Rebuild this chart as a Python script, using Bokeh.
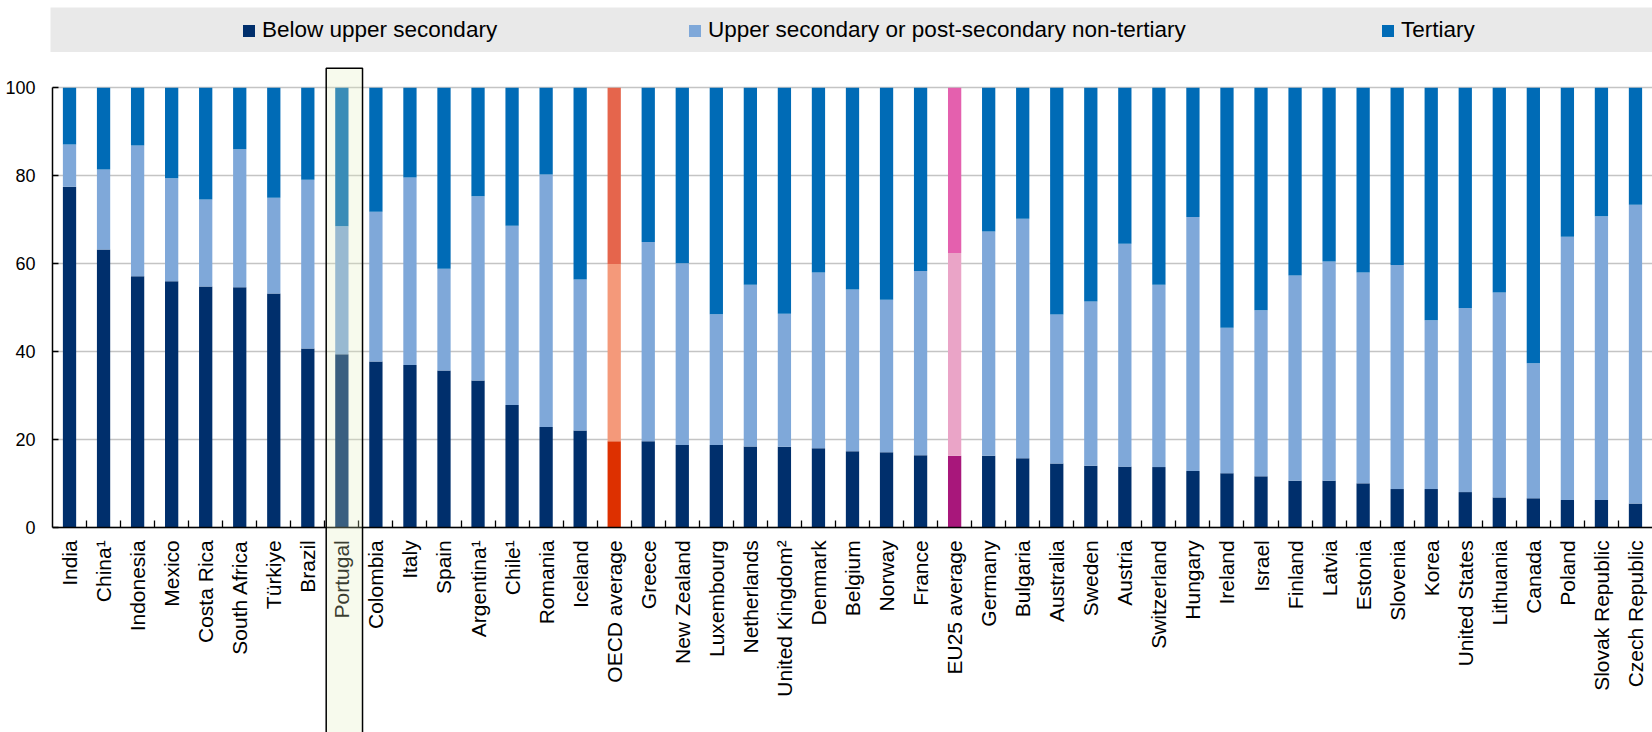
from bokeh.plotting import figure
from bokeh.models import (ColumnDataSource, Range1d, FixedTicker, Legend, LegendItem,
                          BoxAnnotation, Spacer)
from bokeh.layouts import column, row
from bokeh.embed import file_html
from bokeh.resources import INLINE
import math

countries = ["India", "China\u00b9", "Indonesia", "Mexico", "Costa Rica", "South Africa",
             "T\u00fcrkiye", "Brazil", "Portugal", "Colombia", "Italy", "Spain",
             "Argentina\u00b9", "Chile\u00b9", "Romania", "Iceland", "OECD average", "Greece",
             "New Zealand", "Luxembourg", "Netherlands", "United Kingdom\u00b2", "Denmark",
             "Belgium", "Norway", "France", "EU25 average", "Germany", "Bulgaria",
             "Australia", "Sweden", "Austria", "Switzerland", "Hungary", "Ireland", "Israel",
             "Finland", "Latvia", "Estonia", "Slovenia", "Korea", "United States",
             "Lithuania", "Canada", "Poland", "Slovak Republic", "Czech Republic"]

below_upper_secondary = [77.5, 63.2, 57.1, 56.0, 54.8, 54.6, 53.2, 40.7, 39.4, 37.7, 36.9, 35.7,
                         33.4, 27.8, 22.8, 22.0, 19.6, 19.6, 18.7, 18.7, 18.4, 18.3, 18.0,
                         17.3, 17.1, 16.4, 16.3, 16.3, 15.7, 14.5, 14.0, 13.8, 13.7, 12.8,
                         12.3, 11.6, 10.6, 10.6, 10.0, 8.7, 8.7, 8.0, 6.8, 6.6, 6.2, 6.2, 5.4]
upper_secondary = [9.6, 18.2, 29.8, 23.4, 19.8, 31.4, 21.8, 38.4, 29.1, 34.1, 42.7, 23.1,
                   41.9, 40.8, 57.5, 34.4, 40.3, 45.3, 41.4, 29.8, 36.8, 30.3, 40.0,
                   36.8, 34.7, 41.9, 46.1, 51.0, 54.5, 33.9, 37.4, 50.7, 41.5, 57.8,
                   33.1, 37.8, 46.7, 49.9, 48.0, 51.0, 38.4, 41.9, 46.6, 30.7, 59.9, 64.6, 68.0]
tertiary = [12.9, 18.6, 13.1, 20.6, 25.4, 14.0, 25.0, 20.9, 31.5, 28.2, 20.4, 41.2,
            24.7, 31.4, 19.7, 43.6, 40.1, 35.1, 39.9, 51.5, 44.8, 51.4, 42.0,
            45.9, 48.2, 41.7, 37.6, 32.7, 29.8, 51.6, 48.6, 35.5, 44.8, 29.4,
            54.6, 50.6, 42.7, 39.5, 42.0, 40.3, 52.9, 50.1, 46.6, 62.7, 33.9, 29.2, 26.6]

y_ticks = [0, 20, 40, 60, 80, 100]
series_labels = ["Below upper secondary", "Upper secondary or post-secondary non-tertiary",
                 "Tertiary"]
highlight = "Portugal"

FONT = "Liberation Sans"
base_cols = ["#002F6C", "#7FA8D9", "#006BB6"]
special_cols = {"OECD average": ["#DD3000", "#F4997A", "#E5654C"],
                "EU25 average": ["#A8177B", "#EAA4C7", "#E460AE"]}

xs = list(range(len(countries)))
c0, c1, c2 = [], [], []
for name in countries:
    cols = special_cols.get(name, base_cols)
    c0.append(cols[0]); c1.append(cols[1]); c2.append(cols[2])

src = ColumnDataSource(dict(x=xs, below=below_upper_secondary, upper=upper_secondary,
                            tertiary=tertiary, c0=c0, c1=c1, c2=c2))

W = 1652
TOP_GAP = 7
LEG_LEFT = 50
LEG_H = 45
MAIN_H = 732 - TOP_GAP - LEG_H

# ---------------- main chart ----------------
# frame runs from just above the 100 line down to the page bottom; the x axis is
# fixed at y=0 so the highlight box can run through the category labels.
p = figure(width=W, height=MAIN_H, output_backend="svg", toolbar_location=None,
           x_range=Range1d(-0.5, len(countries) - 0.5), y_range=Range1d(-46.7, 104.85),
           min_border_left=52, min_border_right=0, min_border_top=14, min_border_bottom=0)
p.outline_line_color = None
p.background_fill_color = "white"
p.border_fill_color = "white"

p.vbar_stack(["below", "upper", "tertiary"], x="x", width=0.39, source=src,
             fill_color=["c0", "c1", "c2"], line_color=None)

# axes
xa = p.xaxis[0]
xa.fixed_location = 0
xa.ticker = FixedTicker(ticks=xs, minor_ticks=[i + 0.5 for i in range(len(countries) - 1)])
xa.major_label_overrides = {i: n for i, n in enumerate(countries)}
xa.major_label_orientation = math.pi / 2
xa.major_label_text_font = FONT
xa.major_label_text_font_size = "21px"
xa.major_label_text_color = "black"
xa.major_label_standoff = 7
xa.major_tick_line_color = None
xa.minor_tick_in = 7
xa.minor_tick_out = 0
xa.minor_tick_line_color = "black"
xa.minor_tick_line_width = 1.3
xa.axis_line_color = "black"
xa.axis_line_width = 1.5

ya = p.yaxis[0]
ya.bounds = (0, 100)
ya.ticker = FixedTicker(ticks=y_ticks)
ya.minor_tick_line_color = None
ya.major_tick_in = 6
ya.major_tick_out = 0
ya.major_tick_line_color = "black"
ya.major_tick_line_width = 1.3
ya.major_label_text_font = FONT
ya.major_label_text_font_size = "18px"
ya.major_label_text_color = "black"
ya.major_label_standoff = 17
ya.axis_line_color = "black"
ya.axis_line_width = 1.5

p.xgrid.grid_line_color = None
p.ygrid.grid_line_color = "#C4C4C4"
p.ygrid.grid_line_width = 1.5
p.ygrid.ticker = FixedTicker(ticks=y_ticks)

# highlight box for Portugal
hi = countries.index(highlight)
box = BoxAnnotation(left=hi - 0.46, right=hi + 0.607, top=104.45, bottom=-80,
                    fill_color="#E0ECB8", fill_alpha=0.26,
                    line_color="black", line_width=1.5, line_alpha=1.0)
p.add_layout(box)

# ---------------- legend band ----------------
lg = figure(width=W - LEG_LEFT, height=LEG_H, output_backend="svg", toolbar_location=None,
            x_range=Range1d(0, 1), y_range=Range1d(0, 1),
            min_border_left=0, min_border_right=0, min_border_top=0, min_border_bottom=0,
            x_axis_type=None, y_axis_type=None)
lg.outline_line_color = None
lg.background_fill_color = "#E9E9E9"
lg.border_fill_color = "#E9E9E9"
lg.xgrid.grid_line_color = None
lg.ygrid.grid_line_color = None

leg_x = [191, 637, 1330]
for lab, col, lx in zip(series_labels, base_cols, leg_x):
    # swatch-only renderer: a zero-width bar, so only its legend swatch is visible
    r = lg.vbar(x=[0.5], bottom=[0.4], top=[0.6], width=0, fill_color=col, line_color=None)
    leg = Legend(items=[LegendItem(label=lab, renderers=[r])], location=(lx, 9),
                 orientation="horizontal", padding=0, margin=0, border_line_color=None,
                 background_fill_alpha=0, glyph_width=15, glyph_height=15,
                 label_standoff=6, label_text_font=FONT, label_text_font_size="22.5px",
                 label_text_color="black", label_height=26)
    lg.add_layout(leg)

layout = column(Spacer(width=W, height=TOP_GAP),
                row(Spacer(width=LEG_LEFT, height=LEG_H), lg, spacing=0),
                p, spacing=0)
open("out.html", "w").write(file_html(layout, INLINE))
